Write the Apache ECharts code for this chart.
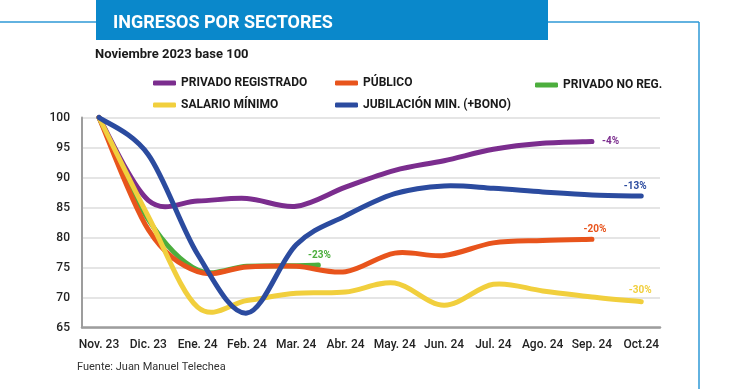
<!DOCTYPE html>
<html>
<head>
<meta charset="utf-8">
<script src="https://cdn.jsdelivr.net/npm/echarts@6/dist/echarts.min.js"></script>
<style>
html,body{margin:0;padding:0;background:#fff;}
#chart{width:730px;height:389px;}
</style>
</head>
<body>
<div id="chart"></div>
<script>
// ---- data ----
const months = ['Nov. 23','Dic. 23','Ene. 24','Feb. 24','Mar. 24','Abr. 24','May. 24','Jun. 24','Jul. 24','Ago. 24','Sep. 24','Oct.24'];
const yTicks = [65, 70, 75, 80, 85, 90, 95, 100];

const privadoRegistrado = [100, 86.2, 86.1, 86.5, 85.2, 88.4, 91.2, 92.8, 94.7, 95.7, 96.0, null];
const publico           = [100, 81.3, 74.3, 75.1, 75.2, 74.3, 77.4, 77.0, 79.1, 79.5, 79.7, null];
const salarioMinimo     = [100, 83.5, 68.4, 69.5, 70.7, 70.9, 72.4, 68.7, 72.2, 71.1, 70.1, 69.3];
const jubilacionMin     = [100, 93.8, 77.2, 67.4, 78.8, 83.6, 87.3, 88.6, 88.2, 87.6, 87.1, 86.9];
const noRegPositions    = [0, 1, 2, 3, 4, 4.45];
const privadoNoReg      = [100, 83.0, 74.6, 75.2, 75.3, 75.4];

const endLabels = { reg: '-4%', pub: '-20%', sal: '-30%', jub: '-13%', noreg: '-23%' };

// ---- styles ----
const FONT = 'Roboto';
const C = { reg: '#7b2d8e', pub: '#e8541c', noreg: '#4cae3d', sal: '#f1cf3d', jub: '#2b4b9f' };
// label placement relative to the end of each line (pixels)
const LBL = {
  reg:   { dx: 10, dy: 0,   align: 'left' },
  pub:   { dx: 3,  dy: -10, align: 'center' },
  sal:   { dx: -1, dy: -11, align: 'center' },
  jub:   { dx: -6, dy: -10, align: 'center' },
  noreg: { dx: 1,  dy: -10, align: 'center' }
};

function toPairs(values, positions) {
  const out = [];
  values.forEach((v, i) => { if (v !== null) out.push([positions ? positions[i] : i, v]); });
  return out;
}

// Excel-like smoothed line (Catmull-Rom style Bezier), drawn in pixel space via the axes
function smoothPath(p) {
  let d = 'M' + p[0][0] + ' ' + p[0][1];
  for (let i = 0; i < p.length - 1; i++) {
    const p0 = p[Math.max(i - 1, 0)], p1 = p[i], p2 = p[i + 1], p3 = p[Math.min(i + 2, p.length - 1)];
    const c1x = p1[0] + (p2[0] - p0[0]) / 6, c1y = p1[1] + (p2[1] - p0[1]) / 6;
    const c2x = p2[0] - (p3[0] - p1[0]) / 6, c2y = p2[1] - (p3[1] - p1[1]) / 6;
    d += ' C' + c1x + ' ' + c1y + ' ' + c2x + ' ' + c2y + ' ' + p2[0] + ' ' + p2[1];
  }
  return d;
}

function lineSeries(name, key, values, positions) {
  const data = toPairs(values, positions);
  const color = C[key];
  const lbl = LBL[key];
  return {
    name: name, type: 'custom', coordinateSystem: 'cartesian2d',
    data: data, encode: { x: 0, y: 1 },
    itemStyle: { color: color },
    silent: true, animation: false,
    renderItem: function (params, api) {
      if (params.dataIndex !== 0) return null;
      const pts = data.map(d => api.coord(d));
      const end = pts[pts.length - 1];
      return {
        type: 'group',
        children: [
          { type: 'path', shape: { pathData: smoothPath(pts) },
            style: { fill: 'none', stroke: color, lineWidth: 5, lineCap: 'round', lineJoin: 'round' } },
          { type: 'text', x: end[0] + lbl.dx, y: end[1] + lbl.dy,
            style: { text: endLabels[key], fill: color, font: 'bold 10px Roboto', align: lbl.align, verticalAlign: 'middle' } }
        ]
      };
    }
  };
}

function legendItem(name, left, centerY) {
  return {
    data: [name], left: left, top: centerY - 7, padding: 0,
    itemWidth: 23, itemHeight: 5, icon: 'roundRect',
    selectedMode: false,
    textStyle: { fontFamily: FONT, fontSize: 12, fontWeight: 'bold', color: '#1a1a1a', lineHeight: 14 }
  };
}

const chart = echarts.init(document.getElementById('chart'));
chart.setOption({
  animation: false,
  backgroundColor: '#ffffff',
  graphic: [
    { type: 'line', shape: { x1: 0, y1: 22, x2: 96, y2: 22 }, style: { stroke: '#2e98d6', lineWidth: 1.5 } },
    { type: 'line', shape: { x1: 548, y1: 22, x2: 699, y2: 22 }, style: { stroke: '#2e98d6', lineWidth: 1.5 } },
    { type: 'line', shape: { x1: 699, y1: 22, x2: 699, y2: 389 }, style: { stroke: '#2e98d6', lineWidth: 1.5 } },
    { type: 'rect', shape: { x: 96, y: 0, width: 452, height: 40 }, style: { fill: '#0a88cb' } },
    { type: 'text', x: 113, y: 23, style: { text: 'INGRESOS POR SECTORES', font: 'bold 18px Roboto', fill: '#ffffff', verticalAlign: 'middle', align: 'left' } },
    { type: 'text', x: 95, y: 55, style: { text: 'Noviembre 2023 base 100', font: 'bold 13px Roboto', fill: '#1a1a1a', verticalAlign: 'middle', align: 'left' } },
    { type: 'text', x: 77, y: 367, style: { text: 'Fuente: Juan Manuel Telechea', font: '11px Roboto', fill: '#333333', verticalAlign: 'middle', align: 'left' } }
  ],
  legend: [
    legendItem('PRIVADO REGISTRADO', 153, 83),
    legendItem('PÚBLICO', 335, 83),
    legendItem('PRIVADO NO REG.', 535, 85),
    legendItem('SALARIO MÍNIMO', 153, 105),
    legendItem('JUBILACIÓN MIN. (+BONO)', 335, 105)
  ],
  grid: { left: 82, right: 70, top: 117.5, bottom: 61.5, containLabel: false },
  xAxis: {
    type: 'value', min: -0.345, max: 11.38,
    axisLine: { show: true, onZero: false, lineStyle: { color: '#9d9d9d', width: 2.5 } },
    axisTick: { show: false },
    splitLine: { show: false },
    axisLabel: {
      customValues: months.map((m, i) => i),
      formatter: (v) => months[Math.round(v)] || '',
      fontFamily: FONT, fontSize: 12, fontWeight: 500, color: '#222', margin: 11
    }
  },
  yAxis: {
    type: 'value', min: yTicks[0], max: yTicks[yTicks.length - 1], interval: 5,
    axisLine: { show: true, onZero: false, lineStyle: { color: '#9d9d9d', width: 2 } },
    axisTick: { show: false },
    splitLine: { show: true, lineStyle: { color: '#dcdcdc', width: 1.5 } },
    axisLabel: { fontFamily: FONT, fontSize: 12, fontWeight: 500, color: '#222', margin: 12 }
  },
  series: [
    lineSeries('PRIVADO NO REG.', 'noreg', privadoNoReg, noRegPositions),
    lineSeries('PÚBLICO', 'pub', publico, null),
    lineSeries('PRIVADO REGISTRADO', 'reg', privadoRegistrado, null),
    lineSeries('SALARIO MÍNIMO', 'sal', salarioMinimo, null),
    lineSeries('JUBILACIÓN MIN. (+BONO)', 'jub', jubilacionMin, null)
  ]
});
</script>
</body>
</html>
